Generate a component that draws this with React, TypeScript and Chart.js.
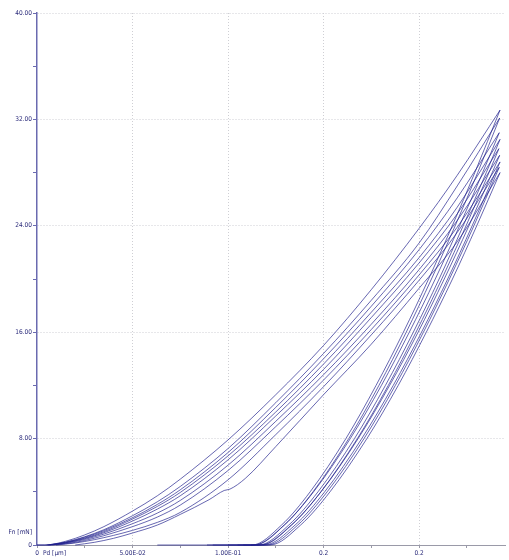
import React, { useEffect, useRef } from "react";
import { Chart, registerables } from "chart.js";

Chart.register(...registerables);

// ---- tick values / labels ----
const xTickValues = [0, 0.025, 0.05, 0.075, 0.1, 0.125, 0.15, 0.175, 0.2, 0.225];
const xTickLabels = ["0", "", "5.00E-02", "", "1.00E-01", "", "0.2", "", "0.2", ""];
const yTickValues = [0, 4, 8, 12, 16, 20, 24, 28, 32, 36, 40];
const yTickLabels = ["0", "", "8.00", "", "16.00", "", "24.00", "", "32.00", "", "40.00"];
const xAxisTitle = "Pd [µm]";
const yAxisTitle = "Fn [mN]";

// ---- loading curves [displacement µm, force mN] ----
const load1 = [[0, 0], [0.004, 0], [0.015, 0.28], [0.025, 0.76], [0.035, 1.38], [0.05, 2.55], [0.063, 3.7], [0.075, 4.95], [0.1, 7.9], [0.125, 11.3], [0.15, 15.0], [0.175, 19.2], [0.2, 23.8], [0.22, 27.8], [0.2424, 32.7]];
const load2 = [[0, 0], [0.005, 0], [0.015, 0.22], [0.025, 0.62], [0.035, 1.15], [0.05, 2.2], [0.063, 3.25], [0.075, 4.4], [0.1, 7.25], [0.125, 10.7], [0.15, 14.4], [0.175, 18.4], [0.2, 22.7], [0.22, 27.0], [0.2422, 32.1]];
const load3 = [[0.005, 0], [0.015, 0.2], [0.025, 0.58], [0.035, 1.08], [0.05, 2.05], [0.063, 3.05], [0.075, 4.15], [0.1, 6.95], [0.125, 10.35], [0.15, 14.0], [0.175, 17.95], [0.2, 22.2], [0.22, 26.1], [0.242, 31.0]];
const load4 = [[0.006, 0], [0.015, 0.18], [0.025, 0.52], [0.035, 1.0], [0.05, 1.95], [0.063, 2.9], [0.075, 3.95], [0.1, 6.7], [0.125, 10.0], [0.15, 13.6], [0.175, 17.5], [0.2, 21.6], [0.22, 25.4], [0.2424, 30.5]];
const load5 = [[0.006, 0], [0.015, 0.16], [0.025, 0.48], [0.035, 0.92], [0.05, 1.8], [0.063, 2.7], [0.075, 3.7], [0.1, 6.4], [0.125, 9.7], [0.15, 13.2], [0.175, 17.1], [0.2, 21.2], [0.22, 24.9], [0.2418, 29.8]];
const load6 = [[0.007, 0], [0.015, 0.13], [0.025, 0.42], [0.035, 0.82], [0.05, 1.6], [0.063, 2.4], [0.075, 3.35], [0.1, 6.0], [0.125, 9.3], [0.15, 12.8], [0.175, 16.6], [0.2, 20.7], [0.22, 24.4], [0.2422, 29.3]];
const load7 = [[0.008, 0], [0.017, 0.13], [0.025, 0.34], [0.035, 0.7], [0.05, 1.38], [0.063, 2.1], [0.075, 3.0], [0.1, 5.6], [0.125, 8.9], [0.15, 12.4], [0.175, 16.2], [0.2, 20.3], [0.22, 23.9], [0.2424, 28.8]];
const load8 = [[0.01, 0], [0.02, 0.15], [0.03, 0.4], [0.04, 0.72], [0.05, 1.1], [0.063, 1.7], [0.075, 2.45], [0.1, 4.9], [0.125, 8.3], [0.15, 11.9], [0.175, 15.8], [0.2, 19.9], [0.22, 23.5], [0.242, 28.4]];
const load9 = [[0.02, 0], [0.03, 0.2], [0.04, 0.5], [0.05, 0.9], [0.063, 1.5], [0.075, 2.3], [0.09, 3.4], [0.098, 4.1], [0.101, 4.2], [0.109, 5.0], [0.125, 7.4], [0.15, 11.3], [0.175, 15.1], [0.2, 19.3], [0.22, 22.8], [0.2424, 28.0]];

// ---- unloading curves [displacement µm, force mN] ----
const unload1 = [[0.063, 0], [0.1125, 0], [0.128, 1.5], [0.143, 4], [0.1617, 8], [0.1775, 12], [0.1918, 16], [0.205, 20], [0.2174, 24], [0.2292, 28], [0.2424, 32.7]];
const unload2 = [[0.089, 0], [0.114, 0], [0.1295, 1.5], [0.1445, 4], [0.1632, 8], [0.179, 12], [0.1933, 16], [0.2065, 20], [0.2189, 24], [0.2307, 28], [0.2422, 32.1]];
const unload3 = [[0.092, 0], [0.1135, 0], [0.1294, 1.5], [0.1448, 4], [0.164, 8], [0.1803, 12], [0.1949, 16], [0.2085, 20], [0.2212, 24], [0.2333, 28], [0.242, 31.0]];
const unload4 = [[0.1, 0], [0.116, 0], [0.1318, 1.5], [0.1471, 4], [0.1662, 8], [0.1824, 12], [0.197, 16], [0.2105, 20], [0.2231, 24], [0.2352, 28], [0.2424, 30.5]];
const unload5 = [[0.105, 0], [0.1175, 0], [0.1333, 1.5], [0.1486, 4], [0.1677, 8], [0.1839, 12], [0.1984, 16], [0.2119, 20], [0.2246, 24], [0.2366, 28], [0.2418, 29.8]];
const unload6 = [[0.108, 0], [0.117, 0], [0.1331, 1.5], [0.1487, 4], [0.1681, 8], [0.1846, 12], [0.1995, 16], [0.2132, 20], [0.2261, 24], [0.2383, 28], [0.2422, 29.3]];
const unload7 = [[0.112, 0], [0.119, 0], [0.1351, 1.5], [0.1506, 4], [0.17, 8], [0.1865, 12], [0.2013, 16], [0.215, 20], [0.2278, 24], [0.24, 28], [0.2424, 28.8]];
const unload8 = [[0.115, 0], [0.1205, 0], [0.1365, 1.5], [0.1519, 4], [0.1712, 8], [0.1876, 12], [0.2023, 16], [0.2159, 20], [0.2287, 24], [0.2408, 28], [0.242, 28.4]];
const unload9 = [[0.118, 0], [0.122, 0], [0.138, 1.5], [0.1534, 4], [0.1727, 8], [0.1891, 12], [0.2038, 16], [0.2175, 20], [0.2302, 24], [0.2424, 28.0]];

const loadCurves = [load1, load2, load3, load4, load5, load6, load7, load8, load9];
const unloadCurves = [unload1, unload2, unload3, unload4, unload5, unload6, unload7, unload8, unload9];

const LINE_COLOR = "rgba(30,30,140,0.85)";
const LABEL_COLOR = "#2a2a7a";
const FONT_FAMILY = "'Liberation Sans Narrow', 'DejaVu Sans Condensed', sans-serif";

const axisTitlePlugin = {
  id: "axisTitles",
  afterDraw(chart: any) {
    const { ctx, chartArea, scales } = chart;
    ctx.save();
    ctx.font = `6.5px ${FONT_FAMILY}`;
    ctx.fillStyle = LABEL_COLOR;
    ctx.textBaseline = "middle";
    ctx.textAlign = "left";
    ctx.fillText(xAxisTitle, scales.x.getPixelForValue(0) + 6, chartArea.bottom + 8);
    ctx.textAlign = "right";
    ctx.fillText(yAxisTitle, chartArea.left - 5, scales.y.getPixelForValue(0) - 13);
    ctx.restore();
  },
};

const isMultiple = (v: number, step: number) => Math.abs(v / step - Math.round(v / step)) < 1e-6;

export default function App() {
  const canvasRef = useRef<HTMLCanvasElement | null>(null);

  useEffect(() => {
    if (!canvasRef.current) return;
    const mk = (pts: number[][]) => pts.map(([x, y]) => ({ x, y }));
    const datasets = [...loadCurves, ...unloadCurves].map((c) => ({
      data: mk(c),
      borderColor: LINE_COLOR,
      borderWidth: 0.8,
      pointRadius: 0,
      fill: false,
      cubicInterpolationMode: "monotone" as const,
      clip: 3,
    }));

    const chart = new Chart(canvasRef.current, {
      type: "line",
      data: { datasets },
      options: {
        animation: false,
        responsive: false,
        layout: { padding: { top: 13, right: 4, left: 0, bottom: 0 } },
        plugins: { legend: { display: false }, tooltip: { enabled: false } },
        scales: {
          x: {
            type: "linear",
            min: 0,
            max: 0.245,
            afterBuildTicks: (scale: any) => {
              scale.ticks = xTickValues.map((v) => ({ value: v }));
            },
            afterFit: (scale: any) => {
              scale.height = 15;
            },
            ticks: {
              autoSkip: false,
              maxRotation: 0,
              padding: 1,
              color: LABEL_COLOR,
              font: { size: 6.5, family: FONT_FAMILY },
              callback: (value: any) => {
                const i = xTickValues.findIndex((v) => Math.abs(v - Number(value)) < 1e-9);
                return i >= 0 ? xTickLabels[i] : "";
              },
            },
            grid: {
              color: (ctx: any) =>
                ctx.tick && ctx.tick.value > 0 && isMultiple(ctx.tick.value, 0.05) ? "#cfcfd4" : "rgba(0,0,0,0)",
              tickColor: "#9a9aa8",
              tickLength: 3,
              lineWidth: 1,
            },
            border: { color: "#9a9aa8", width: 1, dash: [1, 2] },
          },
          y: {
            type: "linear",
            min: 0,
            max: 40,
            afterBuildTicks: (scale: any) => {
              scale.ticks = yTickValues.map((v) => ({ value: v }));
            },
            afterFit: (scale: any) => {
              scale.width = 37;
            },
            ticks: {
              autoSkip: false,
              padding: 1,
              color: LABEL_COLOR,
              font: { size: 6.5, family: FONT_FAMILY },
              callback: (value: any) => {
                const i = yTickValues.findIndex((v) => Math.abs(v - Number(value)) < 1e-9);
                return i >= 0 ? yTickLabels[i] : "";
              },
            },
            grid: {
              color: (ctx: any) =>
                ctx.tick && ctx.tick.value > 0 && isMultiple(ctx.tick.value, 8) ? "#cfcfd4" : "rgba(0,0,0,0)",
              tickColor: "#6a6ab0",
              tickLength: 4,
              lineWidth: 1,
            },
            border: { color: "#6a6ab0", width: 1.5, dash: [1, 2] },
          },
        },
      },
      plugins: [axisTitlePlugin],
    });

    return () => chart.destroy();
  }, []);

  return (
    <div style={{ position: "absolute", left: 0, top: 0, width: 509, height: 560, background: "#fff" }}>
      <canvas ref={canvasRef} width={509} height={560} style={{ display: "block", width: 509, height: 560 }} />
    </div>
  );
}
